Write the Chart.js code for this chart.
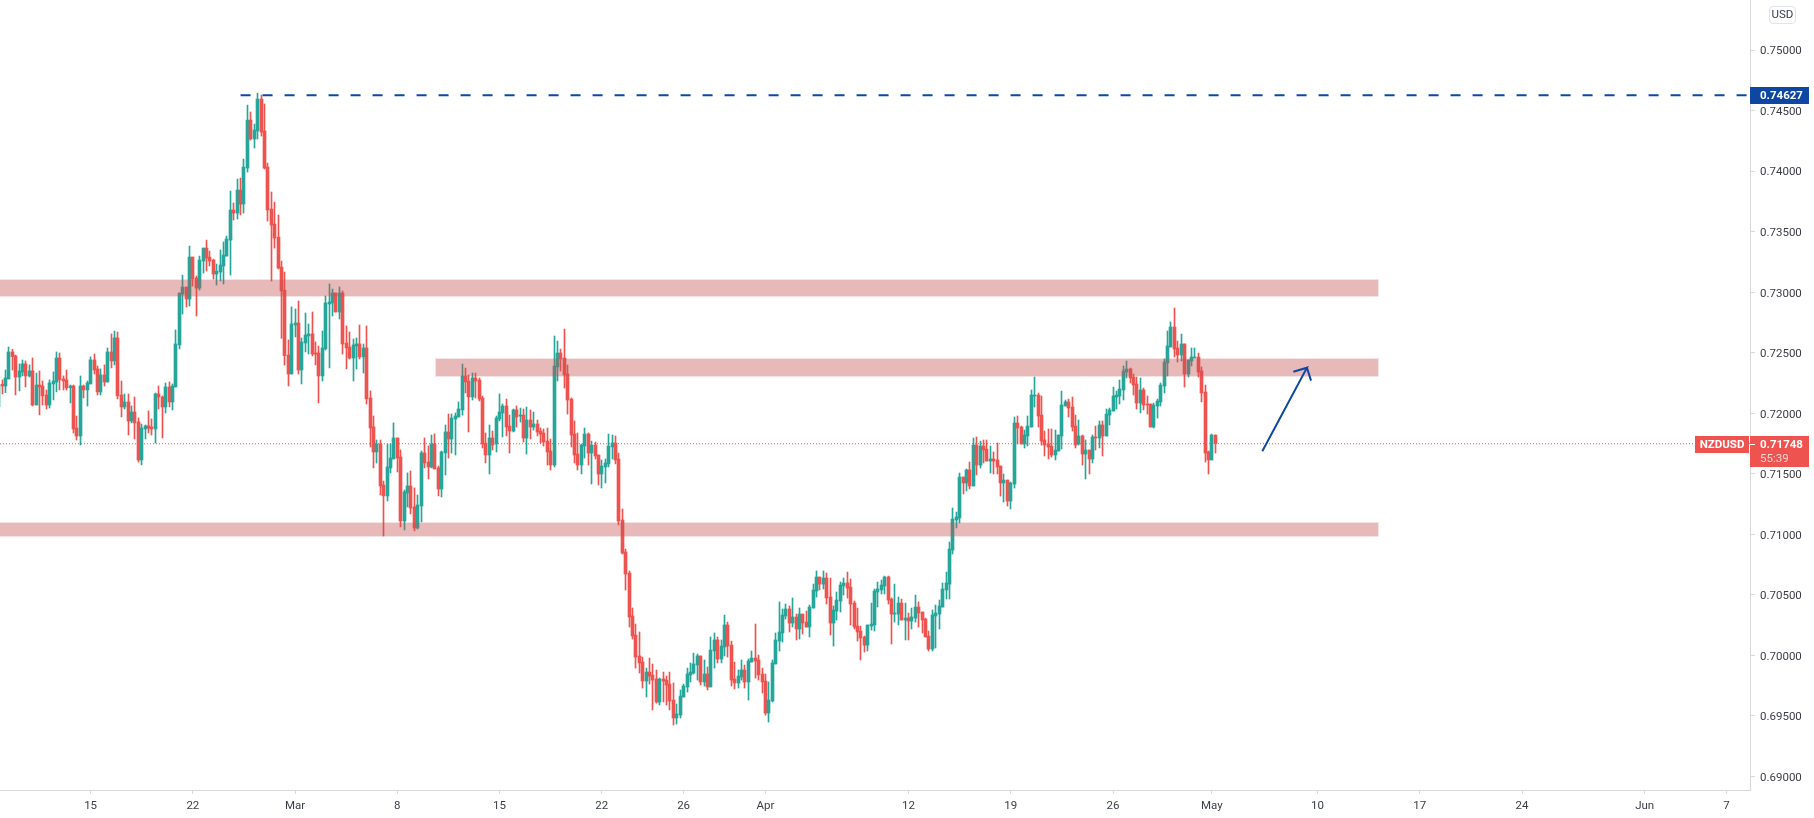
<!DOCTYPE html>
<html>
<head>
<meta charset="utf-8">
<title>NZDUSD</title>
<script src="https://cdn.jsdelivr.net/npm/chart.js@4/dist/chart.umd.min.js"></script>
<style>
	html, body { margin: 0; background: #fff; overflow: hidden; }
	#wrap { position: relative; width: 1814px; height: 818px; }
	#moneda {
		position: absolute; left: 1769px; top: 6px; width: 25px; height: 16px; line-height: 16px;
		border: 1px solid #e0e3eb; border-radius: 4px; text-align: center;
		font: 11.5px Roboto, sans-serif; color: #3a3d45;
	}
</style>
</head>
<body>
<div id="wrap">
	<canvas id="grafico" width="1814" height="818"></canvas>
	<div id="moneda">USD</div>
</div>
<script>
// 4H candles, prices in pipettes (1/100000)
var opens = [72054,72239,72225,72283,72506,72473,72299,72341,72407,72308,72349,72068,72233,72225,72151,72068,72242,72258,72456,72283,72275,72211,72225,71878,71812,72225,72192,72242,72440,72366,72176,72316,72258,72506,72432,72622,72151,72052,72093,71936,72010,71928,71614,71870,71895,71887,71870,72159,72134,72052,72217,72093,72217,72564,
	72984,73042,72943,73290,73117,73034,73257,73364,73290,73265,73150,73166,73216,73298,73430,73678,73653,73843,73728,74025,74421,74265,74331,74595,74331,74033,73686,73562,73455,73207,73017,
	72481,72324,72729,72745,72357,72580,72638,72655,72498,72498,72308,72531,72902,72911,72993,72836,72993,72580,72547,72456,72555,72572,72465,72539,72126,71887,71680,71746,71407,71317,71548,71622,71796,71639,71110,71341,71399,71226,71052,71234,71672,71597,71556,71746,71548,71374,71672,71845,
	71787,71952,71969,72027,72307,72266,72134,72291,72274,72126,71754,71655,71795,71746,71952,72002,72060,71894,71853,72027,71977,71985,71795,71944,71886,71911,71853,71837,71770,71688,71572,72382,72497,72456,72324,72117,71828,71663,71572,71729,71828,71671,71737,71655,71498,71556,71581,71721,71754,71622,
	71118,70854,70680,70325,70168,69995,69945,69788,69862,69838,69805,69615,69805,69796,69763,69631,69483,69507,69656,69739,69838,69854,69920,69995,69780,69846,69739,70036,70127,69970,70069,70251,70085,69805,69772,69821,69879,69780,69945,69978,69962,69846,69788,69524,69623,69929,70118,70185,70325,70383,70267,70317,70218,70341,70275,70234,70391,70531,70647,70589,70639,70482,70267,70366,70449,70573,70598,70564,70432,70242,70201,70152,70085,70242,70251,70523,70540,70573,70647,70465,70341,70341,70432,70292,70308,70284,70308,70399,70358,70300,70160,70052,70325,70341,70399,70540,70589,70870,71118,
	71135,71473,71424,71531,71399,71737,71572,71729,71704,71605,71622,71614,71564,71424,71448,71275,71415,71919,71886,71746,71812,71886,72142,72150,71985,71779,71746,71729,71655,71688,71812,72060,72093,72051,71894,71746,71812,71663,71696,71622,71804,71795,71903,71812,71985,72018,72134,72142,72192,72340,72365,72299,72241,72084,72192,72076,72076,71886,72060,72093,72225,72415,72547,72712,72539,72481,72572,72324,72431,72456,72464,72349,72175,71680,71614,71820];
var closes = [72233,72225,72291,72506,72467,72299,72349,72407,72308,72349,72068,72233,72217,72143,72068,72250,72266,72456,72275,72266,72209,72225,71870,71812,72225,72192,72250,72440,72357,72176,72316,72258,72506,72432,72622,72143,72052,72093,71936,72010,71920,71614,71878,71895,71878,71870,72159,72134,72052,72217,72093,72225,72572,72993,
	73042,72943,73290,73108,73034,73265,73364,73282,73257,73150,73174,73224,73306,73439,73678,73653,73843,73728,74033,74421,74265,74339,74595,74322,74025,73678,73554,73447,73199,73009,72475,
	72324,72737,72745,72357,72589,72646,72655,72489,72489,72308,72539,72911,72919,72993,72836,72993,72572,72539,72456,72564,72572,72465,72539,72118,71878,71680,71746,71399,71317,71556,71630,71796,71630,71110,71350,71399,71217,71052,71242,71672,71589,71556,71746,71540,71374,71680,71845,71787,
	71960,71977,72035,72307,72258,72134,72291,72266,72117,71746,71655,71795,71737,71960,72010,72060,71886,71853,72027,71969,71985,71795,71944,71886,71911,71845,71828,71762,71680,71572,72390,72497,72448,72316,72109,71820,71655,71572,71737,71828,71671,71737,71647,71498,71564,71589,71729,71754,71614,71110,
	70845,70672,70317,70160,69986,69937,69788,69862,69829,69796,69615,69805,69788,69755,69623,69483,69516,69664,69747,69846,69862,69929,69995,69780,69846,69739,70044,70127,69970,70077,70251,70077,69796,69772,69829,69879,69780,69953,69978,69953,69838,69780,69524,69631,69937,70127,70193,70333,70383,70267,70317,70218,70341,70267,70234,70399,70540,70647,70589,70639,70474,70267,70375,70457,70581,70598,70556,70424,70234,70193,70143,70085,70251,70259,70531,70548,70581,70647,70457,70341,70350,70432,70292,70308,70284,70317,70399,70350,70292,70152,70052,70333,70350,70408,70548,70598,70878,71126,71143,
	71473,71424,71531,71399,71737,71572,71729,71696,71605,71622,71605,71556,71424,71448,71275,71424,71919,71878,71746,71820,71894,72150,72150,71977,71770,71737,71721,71655,71696,71820,72068,72093,72043,71886,71737,71812,71663,71696,71622,71804,71795,71903,71812,71993,72027,72142,72150,72200,72349,72365,72291,72233,72084,72192,72068,72068,71886,72068,72101,72233,72423,72555,72712,72530,72481,72572,72324,72439,72464,72464,72340,72167,71671,71614,71820,71748];
var highs = [72275,72275,72357,72547,72528,72481,72407,72440,72432,72399,72456,72332,72349,72266,72192,72275,72341,72506,72498,72308,72357,72233,72233,71977,72308,72233,72266,72465,72489,72390,72366,72399,72539,72655,72679,72671,72266,72159,72159,72060,72134,71961,71911,71903,72019,71953,72167,72225,72143,72250,72258,72242,72688,72993,
	73141,73042,73381,73290,73133,73298,73364,73430,73339,73273,73232,73348,73414,73463,73835,73736,73934,73942,74099,74545,74488,74388,74644,74628,74554,74066,73827,73744,73637,73257,73166,
	72605,72878,72861,72927,72622,72828,72737,72836,72589,72555,72679,72968,73068,73026,72993,73043,73010,72721,72671,72613,72622,72729,72572,72721,72184,71977,71779,71779,71440,71746,71746,71920,71796,71697,71366,71507,71523,71383,71325,71688,71796,71730,71820,71829,71564,71688,71903,71994,
	71994,72002,72093,72406,72373,72316,72332,72332,72291,72142,71837,71903,71853,71977,72159,72076,72117,71985,72035,72060,72043,72035,72051,72027,72010,71944,71878,71870,71878,71787,72638,72596,72530,72695,72398,72126,71936,71837,71746,71878,71837,71770,71762,71655,71614,71622,71828,71820,71812,71671,
	71209,70878,70697,70391,70259,70193,69986,69895,69978,69928,69879,69813,69862,69829,69862,69772,69598,69714,69763,69895,69937,70019,70011,69995,69962,69904,70152,70185,70152,70127,70333,70275,70118,69945,69879,69962,69920,69970,70036,70259,70003,69895,69846,69780,69962,70185,70441,70383,70424,70408,70474,70341,70391,70341,70366,70416,70589,70697,70647,70697,70680,70639,70408,70523,70606,70639,70688,70631,70449,70391,70242,70160,70251,70432,70548,70606,70622,70655,70655,70474,70589,70482,70465,70432,70350,70391,70498,70441,70358,70308,70201,70375,70416,70457,70598,70688,70936,71217,71184,
	71506,71473,71539,71597,71795,71804,71770,71779,71779,71729,71680,71754,71564,71498,71448,71432,71969,71977,71894,71861,71977,72192,72299,72167,72142,71853,71870,71870,71861,71820,72183,72109,72117,72134,71985,71944,71820,71779,71696,71820,71894,71936,71936,72035,72043,72216,72183,72274,72390,72431,72373,72324,72299,72291,72208,72142,72076,72084,72117,72250,72448,72679,72753,72869,72596,72654,72572,72439,72539,72539,72497,72382,72233,71688,71828,71820];
var lows = [71931,72159,72170,72283,72357,72151,72184,72308,72217,72299,72060,72068,71986,72068,72035,72043,72110,72176,72192,72192,72192,72085,71837,71779,71738,72126,72060,72242,72324,72151,72151,72225,72258,72374,72399,72118,71969,72035,71820,71920,71787,71597,71573,71787,71837,71820,71754,72035,71796,72002,72052,72027,72217,72531,
	72819,72877,72885,73050,72803,73017,73158,73174,73216,73108,73059,73092,73067,73298,73141,73596,73604,73637,73653,73992,74256,74190,74265,74289,74017,73587,73092,73364,73191,72618,72398,
	72225,72324,72630,72324,72242,72506,72489,72473,72399,72085,72266,72522,72374,72803,72836,72778,72489,72366,72448,72266,72366,72448,72332,72076,71721,71548,71589,71325,70986,71275,71507,71622,71515,71061,71036,71226,71168,71028,71044,71102,71548,71457,71548,71540,71317,71308,71490,71630,
	71671,71655,71969,71985,72167,71845,72109,72126,72101,71713,71589,71498,71696,71680,71936,71804,71812,71671,71845,71886,71927,71762,71663,71787,71861,71812,71754,71729,71572,71531,71556,72266,72349,72208,71993,71721,71589,71531,71498,71630,71572,71415,71622,71407,71382,71424,71556,71622,71581,71077,
	70837,70540,70234,70135,69895,69854,69730,69656,69763,69549,69606,69590,69615,69590,69549,69425,69433,69483,69656,69697,69780,69846,69796,69755,69747,69714,69739,69895,69937,69937,69995,69986,69747,69722,69730,69796,69730,69631,69945,69813,69796,69689,69507,69449,69615,69929,70036,70110,70300,70193,70234,70127,70135,70176,70234,70152,70391,70482,70540,70548,70424,70168,70077,70292,70358,70498,70474,70251,70218,70118,69962,70028,70036,70209,70201,70399,70507,70507,70424,70094,70275,70251,70292,70127,70127,70218,70275,70234,70185,70152,70036,70036,70061,70218,70399,70465,70465,70837,71052,
	71093,71333,71358,71374,71399,71490,71547,71589,71605,71506,71498,71498,71316,71267,71234,71209,71382,71746,71746,71713,71729,71886,72051,71886,71737,71647,71622,71638,71614,71688,71704,72060,71969,71853,71713,71737,71572,71457,71498,71589,71696,71713,71647,71812,71903,72018,72035,72076,72109,72291,72250,72150,72035,72002,72027,71993,71886,71878,71960,72060,72167,72307,72547,72464,72423,72431,72216,72299,72390,72456,72299,72093,71597,71498,71614,71671];

var yTicks = [0.69, 0.695, 0.70, 0.705, 0.71, 0.715, 0.72, 0.725, 0.73, 0.735, 0.74, 0.745, 0.75];
var dateTicks = [27, 57, 87, 117, 147, 177, 201, 225, 267, 297, 327, 356, 387, 417, 447, 483, 507];
var dateLabels = ['15', '22', 'Mar', '8', '15', '22', '26', 'Apr', '12', '19', '26', 'May', '10', '17', '24', 'Jun', '7'];

// zonas dibujadas a mano: inicio, fin, techo y suelo
var zoneStarts = [0, 128, 0];
var zoneEnds = [405, 405, 405];
var zoneTops = [73109, 72454, 71099];
var zoneBottoms = [72963, 72299, 70980];

var highLevel = 0.74627;
var lastPrice = 0.71748;
var highLevelStart = 71;
var arrowX = [370.8, 383.9, 379.9, 383.9, 385.1];
var arrowY = [71686, 72376, 72343, 72376, 72269];
var symbolName = 'NZDUSD';
var countdown = '55:39';

var fontFam = 'Roboto, sans-serif';
var axisColor = '#d9d9d9';
var upColor = '#26a69a';
var downColor = '#ef5350';
var blueColor = '#0d47a1';
var xMin = 0.411;
var xMax = 513.9;

function color(i) {
	return closes[i] >= opens[i] ? upColor : downColor;
}

// deja velas y mechas en pixel entero, como el original
var snapPlugin = {
	id: 'snap',
	afterDatasetsUpdate: function (chart) {
		chart.getSortedVisibleDatasetMetas().forEach(function (meta) {
			if (meta.type !== 'bar') {
				return;
			}
			meta.data.forEach(function (el) {
				el.x = Math.floor(el.x) + 0.5;
			});
		});
	},
};

var zonesPlugin = {
	id: 'zones',
	afterDatasetDraw: function (chart, args) {
		if (chart.data.datasets[args.index].label !== 'bodies') {
			return;
		}
		var ctx = chart.ctx;
		var x = chart.scales.x;
		var y = chart.scales.y;
		zoneTops.forEach(function (top, i) {
			var left = Math.round(x.getPixelForValue(zoneStarts[i]));
			var right = Math.round(x.getPixelForValue(zoneEnds[i]));
			var t = Math.round(y.getPixelForValue(top / 1e5));
			var b = Math.round(y.getPixelForValue(zoneBottoms[i] / 1e5));
			ctx.save();
			ctx.fillStyle = 'rgba(198,80,80,0.4)';
			ctx.fillRect(left + 1, t + 1, right - left - 2, b - t - 2);
			ctx.strokeStyle = 'rgba(198,80,80,0.16)';
			ctx.lineWidth = 1;
			ctx.strokeRect(left + 0.5, t + 0.5, right - left - 1, b - t - 1);
			ctx.restore();
		});
	},
};

var labelsPlugin = {
	id: 'priceLabels',
	afterDraw: function (chart) {
		var ctx = chart.ctx;
		var y = chart.scales.y;
		var right = chart.chartArea.right;
		ctx.save();
		ctx.textBaseline = 'middle';

		var yTop = Math.round(y.getPixelForValue(highLevel));
		ctx.fillStyle = blueColor;
		ctx.fillRect(right, yTop - 8, 59, 17);
		ctx.fillStyle = '#fff';
		ctx.font = 'bold 11.5px ' + fontFam;
		ctx.fillText(highLevel.toFixed(5), right + 10, yTop + 1);

		var yLast = Math.round(y.getPixelForValue(lastPrice));
		ctx.fillStyle = downColor;
		ctx.fillRect(right, yLast - 8, 59, 31);
		ctx.fillRect(right - 55, yLast - 8, 54, 17);
		ctx.fillStyle = '#fff';
		ctx.fillRect(right, yLast, 5, 1);
		ctx.fillText(lastPrice.toFixed(5), right + 10, yLast + 1);
		ctx.textAlign = 'center';
		ctx.fillText(symbolName, right - 28, yLast + 1);
		ctx.textAlign = 'left';
		ctx.fillStyle = 'rgba(255,255,255,0.75)';
		ctx.font = '11.5px ' + fontFam;
		ctx.fillText(countdown, right + 10, yLast + 15);
		ctx.restore();
	},
};

new Chart(document.getElementById('grafico'), {
	type: 'bar',
	plugins: [snapPlugin, zonesPlugin, labelsPlugin],
	data: {
		datasets: [
			{
				type: 'line',
				label: 'last',
				data: [{ x: xMin, y: lastPrice }, { x: xMax, y: lastPrice }],
				borderColor: downColor,
				borderWidth: 1,
				borderDash: [1, 2],
				pointRadius: 0,
				order: 4,
			},
			{
				label: 'wicks',
				data: opens.map(function (o, i) { return { x: i, y: [lows[i] / 1e5, highs[i] / 1e5] }; }),
				backgroundColor: opens.map(function (o, i) { return color(i); }),
				barThickness: 1,
				grouped: false,
				borderWidth: 0,
				order: 3,
			},
			{
				label: 'bodies',
				data: opens.map(function (o, i) { return { x: i, y: [o / 1e5, closes[i] / 1e5] }; }),
				backgroundColor: opens.map(function (o, i) { return color(i); }),
				barThickness: 3,
				minBarLength: 1,
				grouped: false,
				borderWidth: 0,
				order: 2,
			},
			{
				type: 'line',
				label: 'high',
				data: [{ x: highLevelStart, y: highLevel }, { x: xMax, y: highLevel }],
				borderColor: blueColor,
				borderWidth: 2,
				borderDash: [10, 12],
				pointRadius: 0,
				order: 1,
			},
			{
				type: 'line',
				label: 'arrow',
				data: arrowX.map(function (v, i) { return { x: v, y: arrowY[i] / 1e5 }; }),
				borderColor: blueColor,
				borderWidth: 2,
				pointRadius: 0,
				order: 0,
			},
		],
	},
	options: {
		responsive: false,
		animation: false,
		events: [],
		layout: { padding: 0, autoPadding: false },
		plugins: { legend: { display: false }, tooltip: { enabled: false } },
		scales: {
			x: {
				type: 'linear',
				offset: false,
				min: xMin,
				max: xMax,
				grid: { offset: false, drawOnChartArea: false, color: axisColor, tickLength: 4 },
				border: { color: axisColor },
				afterBuildTicks: function (scale) {
					scale.ticks = dateTicks.map(function (v) { return { value: v }; });
				},
				afterFit: function (scale) { scale.height = 28; scale.paddingLeft = 0; scale.paddingRight = 0; },
				ticks: {
					autoSkip: false,
					maxRotation: 0,
					padding: 5,
					color: '#3a3d45',
					font: { family: fontFam, size: 11.5 },
					callback: function (value) { return dateLabels[dateTicks.indexOf(value)]; },
				},
			},
			y: {
				position: 'right',
				min: 0.68888,
				max: 0.75413,
				grid: { drawOnChartArea: false, color: axisColor, tickLength: 5 },
				border: { color: axisColor },
				afterBuildTicks: function (scale) {
					scale.ticks = yTicks.map(function (v) { return { value: v }; });
				},
				afterFit: function (scale) { scale.width = 64; scale.paddingTop = 0; scale.paddingBottom = 0; },
				ticks: {
					padding: 5,
					labelOffset: 1.5,
					color: '#3a3d45',
					font: { family: fontFam, size: 11.5 },
					callback: function (value) { return value.toFixed(5); },
				},
			},
		},
	},
});
</script>
</body>
</html>
